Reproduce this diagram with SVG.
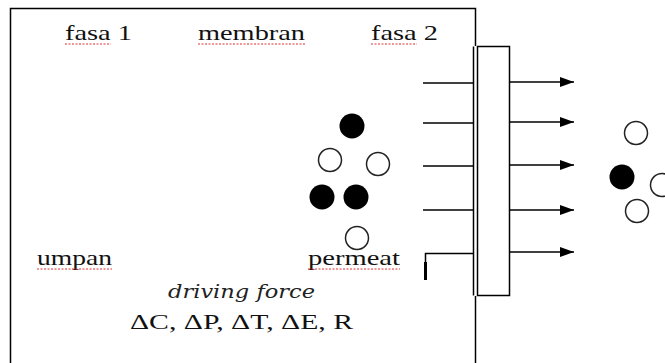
<svg xmlns="http://www.w3.org/2000/svg" width="665" height="363" viewBox="0 0 665 363">
<defs>
<style>
.t{font-family:"Liberation Serif","Times New Roman",serif;font-size:22px;fill:#111}
.i{font-family:"DejaVu Serif","Liberation Serif",serif;font-style:italic;font-size:19px;fill:#222}
.ln{stroke:#000;stroke-width:1.5;fill:none}
.sq{stroke:#e03030;stroke-width:1;fill:none;stroke-dasharray:2 1.5}
.f{fill:#000}
.o{fill:#fff;stroke:#222;stroke-width:1.5}
</style>
<marker id="ah" markerWidth="14" markerHeight="10" refX="14" refY="5" orient="auto" markerUnits="userSpaceOnUse">
<path d="M0,0 L14,5 L0,10 Z" fill="#000"/>
</marker>
</defs>
<rect width="665" height="363" fill="#fff"/>
<g id="frame">
<path d="M10.5,363 V8.5 H475.5 V46" class="ln" stroke-width="2"/>
<path d="M475.5,296 V363" class="ln"/>
</g>
<g id="membrane">
<rect x="477.5" y="46.5" width="32" height="249" class="ln"/>
<line x1="473.5" y1="46.5" x2="473.5" y2="295.5" class="ln"/>
</g>
<g id="connectors">
<line x1="423" y1="83" x2="473" y2="83" class="ln"/>
<line x1="423" y1="123" x2="473" y2="123" class="ln"/>
<line x1="423" y1="166" x2="473" y2="166" class="ln"/>
<line x1="423" y1="210" x2="473" y2="210" class="ln"/>
<path d="M425.5,280 V253.5 H473" class="ln"/>
<line x1="425.5" y1="262" x2="425.5" y2="280" stroke="#000" stroke-width="3"/>
<line x1="510" y1="82" x2="574" y2="82" class="ln" marker-end="url(#ah)"/>
<line x1="510" y1="122" x2="574" y2="122" class="ln" marker-end="url(#ah)"/>
<line x1="510" y1="165" x2="574" y2="165" class="ln" marker-end="url(#ah)"/>
<line x1="510" y1="210" x2="574" y2="210" class="ln" marker-end="url(#ah)"/>
<line x1="510" y1="252" x2="574" y2="252" class="ln" marker-end="url(#ah)"/>
</g>
<g id="particles-left">
<circle cx="352" cy="126" r="12.5" class="f"/>
<circle cx="330" cy="160" r="11.5" class="o"/>
<circle cx="378" cy="164" r="11.5" class="o"/>
<circle cx="322" cy="197" r="12.5" class="f"/>
<circle cx="356" cy="197" r="12.5" class="f"/>
<circle cx="357" cy="238" r="11.5" class="o"/>
</g>
<g id="particles-right">
<circle cx="636" cy="133" r="11.5" class="o"/>
<circle cx="622" cy="177" r="12.5" class="f"/>
<circle cx="662" cy="185" r="11.5" class="o"/>
<circle cx="637" cy="211" r="11.5" class="o"/>
</g>
<g id="labels">
<text class="t" x="65" y="40" textLength="67" lengthAdjust="spacingAndGlyphs">fasa  1</text>
<text class="t" x="198" y="40" textLength="107" lengthAdjust="spacingAndGlyphs">membran</text>
<text class="t" x="371" y="40" textLength="67" lengthAdjust="spacingAndGlyphs">fasa  2</text>
<text class="t" x="37" y="265" textLength="75" lengthAdjust="spacingAndGlyphs">umpan</text>
<text class="t" x="308" y="265" textLength="92" lengthAdjust="spacingAndGlyphs">permeat</text>
<text class="i" x="168" y="298" textLength="147" lengthAdjust="spacingAndGlyphs">driving force</text>
<text class="t" x="130" y="329" textLength="223" lengthAdjust="spacingAndGlyphs">ΔC, ΔP, ΔT, ΔE, R</text>
<path class="sq" d="M65,44 H111 M198,44 H305 M371,44 H417 M37,269 H112 M308,269 H400"/>
</g>
</svg>
